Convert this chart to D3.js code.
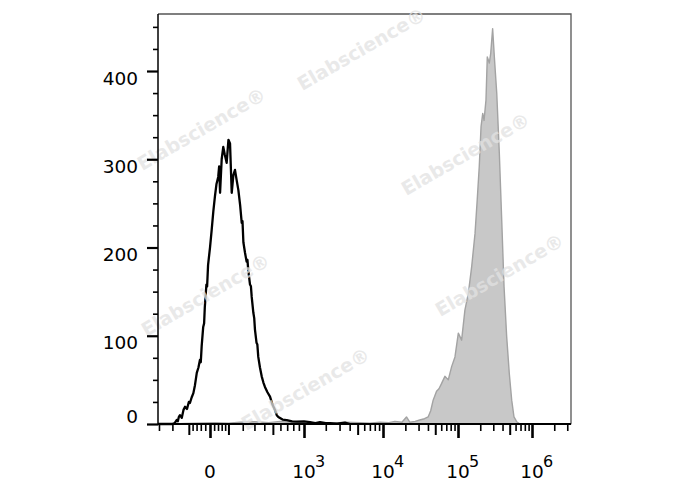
<!DOCTYPE html>
<html><head><meta charset="utf-8">
<script src="https://cdn.jsdelivr.net/npm/d3@7"></script>
<style>html,body{margin:0;padding:0;background:#fff}svg{display:block}</style>
</head><body>
<svg id="c" width="688" height="490"></svg>
<script>
// ---------- data ----------
// x-axis (logicle-like) tick labels
const xMajorTicks = [0, 1e3, 1e4, 1e5, 1e6];
const xMajorLabels = ["0", "10|3", "10|4", "10|5", "10|6"];
const xMidTicks = [-100, 100, 500, 5e3, 5e4, 5e5];
const xMinorTicks = [-300, -200, -80, -60, -40, -20, 20, 40, 60, 80, 200, 300, 400, 600, 700, 800, 900,
  2e3, 3e3, 4e3, 6e3, 7e3, 8e3, 9e3, 2e4, 3e4, 4e4, 6e4, 7e4, 8e4, 9e4,
  2e5, 3e5, 4e5, 6e5, 7e5, 8e5, 9e5, 2e6, 3e6];
const yMajorTicks = [0, 100, 200, 300, 400];
const yMinorTicks = [25, 50, 75, 125, 150, 175, 225, 250, 275, 325, 350, 375, 425, 450];

// unstained / isotype control (black outline)
const controlX = [-308, -200, -185, -172, -165, -158, -151, -140, -130, -121, -110, -100, -94, -85, -76, -68, -59, -51, -44, -40, -36, -29, -25, -22, -15, -12, -8,
  0, 8, 16, 24, 32, 41, 46, 51, 60, 69, 78, 89, 100, 110, 121, 132, 143, 155, 167, 180, 192, 198, 205, 218, 231, 238, 245, 260, 268, 275, 290, 298,
  305, 320, 328, 337, 354, 372, 390, 407, 435, 465, 495, 527, 550, 571, 630, 693, 780, 860, 1000, 1220, 1450, 1676, 2000, 2268, 2800, 3504, 4035];
const controlCount = [0, 0, 1, 4.5, 3, 8, 10, 7, 16, 19.6, 17, 25, 23.8, 30, 35, 44, 58, 64, 72.5, 70, 88, 110, 114, 132, 158, 156, 180,
  200, 220, 241, 258, 272, 280, 292, 262, 300, 314, 305, 296, 322, 318, 262, 282, 288, 276, 265, 248, 228, 230, 206, 194, 184, 186, 174, 158, 156, 144, 126, 120,
  107, 92, 90, 76, 64, 54, 47, 42, 36, 31, 22, 16, 10, 8, 5, 4.5, 3, 2.6, 3, 2, 1, 2, 1, 1, 0.5, 1.5, 0];

// stained sample (grey filled)
const sampleX = [-200, -121, -68, 24, 100, 179, 305, 450, 596, 750, 919, 1300, 1676, 2500, 3504, 5334, 7000, 9210, 12000, 14450, 18000,
  20700, 22900, 27000, 31100, 36000, 40200, 43500, 46900, 52000, 56000, 60700, 67100, 74300, 82400, 91200, 101000, 112000,
  124000, 138000, 153000, 170000, 182000, 194000, 205000, 216000, 225000, 239000, 249000, 265000, 277000, 294000, 310000,
  334000, 362000, 390000, 419000, 455000, 494000, 532000, 571000, 621000, 689000, 3370000];
const sampleCount = [0, 0.5, 1, 1.5, 1, 2, 2.5, 1.5, 3, 2, 2, 1.5, 1.5, 1, 2, 1.5, 1, 2, 1.5, 3, 2,
  8, 2, 3, 4.5, 6, 8, 15, 27, 37, 40, 46, 54, 50, 65, 76, 103, 95,
  129, 148, 178, 216, 254, 292, 337, 352, 344, 367, 416, 409, 420, 448, 416,
  375, 307, 231, 156, 99, 57, 27, 8, 2.6, 0, 0];

const watermark = "Elabscience®";

// ---------- layout ----------
const L = 158, R = 571, T = 14, B = 424;
const svg = d3.select("#c");
const font = "'DejaVu Sans', Verdana, sans-serif";

const x = d3.scaleSymlog().constant(300)
  .domain([-308, 0, 1e3, 1e4, 1e5, 1e6, 3.37e6])
  .range([L, 210, 304, 383, 458, 532, R]);
const y = d3.scaleLinear().domain([0, 464.6]).range([B, T]);

const control = controlX.map((v, i) => [v, controlCount[i]]);
const sample = sampleX.map((v, i) => [v, sampleCount[i]]);

// frame (top / right)
svg.append("path")
  .attr("d", `M${L},${T}H${R}V${B}`)
  .attr("fill", "none").attr("stroke", "#555").attr("stroke-width", 1.3);

// grey sample histogram
svg.append("path").datum(sample)
  .attr("d", d3.area().x(d => x(d[0])).y0(y(0)).y1(d => y(d[1])))
  .attr("fill", "#c8c8c8").attr("stroke", "#a3a3a3").attr("stroke-width", 1.4)
  .attr("stroke-linejoin", "round");

// black control histogram
svg.append("path").datum(control)
  .attr("d", d3.line().x(d => x(d[0])).y(d => y(d[1])))
  .attr("fill", "none").attr("stroke", "#000").attr("stroke-width", 2.3)
  .attr("stroke-linejoin", "round");

// watermarks
const wm = [[362, 50], [202, 130], [466, 155], [206, 296], [500, 276], [306, 390]];
svg.append("g").selectAll("text").data(wm).join("text")
  .attr("transform", d => `translate(${d[0]},${d[1]}) rotate(-30)`)
  .attr("text-anchor", "middle").attr("dominant-baseline", "middle")
  .attr("font-family", font).attr("font-weight", "bold").attr("font-size", 19)
  .attr("fill", "#e2e2e2").attr("fill-opacity", 0.75)
  .text(watermark);

// x axis ticks
function xTicks(vals, size, width) {
  const g = svg.append("g").attr("transform", `translate(0,${B})`)
    .call(d3.axisBottom(x).tickValues(vals).tickSize(size).tickFormat(""));
  g.select(".domain").remove();
  g.selectAll("line").attr("stroke", "#000").attr("stroke-width", width);
}
xTicks(xMinorTicks, 7, 1.6);
xTicks(xMidTicks, 11, 2);
xTicks(xMajorTicks, 14, 2.6);

// y axis ticks
function yTicks(vals, size, width) {
  const g = svg.append("g").attr("transform", `translate(${L},0)`)
    .call(d3.axisLeft(y).tickValues(vals).tickSize(size).tickFormat(""));
  g.select(".domain").remove();
  g.selectAll("line").attr("stroke", "#000").attr("stroke-width", width);
}
yTicks(yMinorTicks, 5, 1.6);
yTicks(yMajorTicks, 11, 2.2);

// axis lines
svg.append("line").attr("x1", L).attr("x2", L).attr("y1", T).attr("y2", B)
  .attr("stroke", "#000").attr("stroke-width", 1.5);
svg.append("line").attr("x1", L).attr("x2", R).attr("y1", B).attr("y2", B)
  .attr("stroke", "#000").attr("stroke-width", 2.2);

// y labels
svg.append("g").selectAll("text").data(yMajorTicks).join("text")
  .attr("x", 138)
  .attr("y", d => d === 0 ? y(d) - 1.5 : y(d) + 13.5)
  .attr("text-anchor", "end")
  .attr("font-family", font).attr("font-size", 18.5).attr("fill", "#000")
  .text(d => d);

// x labels
const xl = svg.append("g").selectAll("g").data(xMajorTicks).join("g")
  .attr("transform", d => `translate(${x(d)},478)`);
xl.append("text")
  .attr("text-anchor", "middle")
  .attr("font-family", font).attr("font-size", 18.5).attr("fill", "#000")
  .text((d, i) => xMajorLabels[i].split("|")[0]);
xl.filter((d, i) => xMajorLabels[i].includes("|")).append("text")
  .attr("x", 11).attr("y", -11)
  .attr("font-family", font).attr("font-size", 16).attr("fill", "#000")
  .text(d => xMajorLabels[xMajorTicks.indexOf(d)].split("|")[1]);
</script>
</body></html>
